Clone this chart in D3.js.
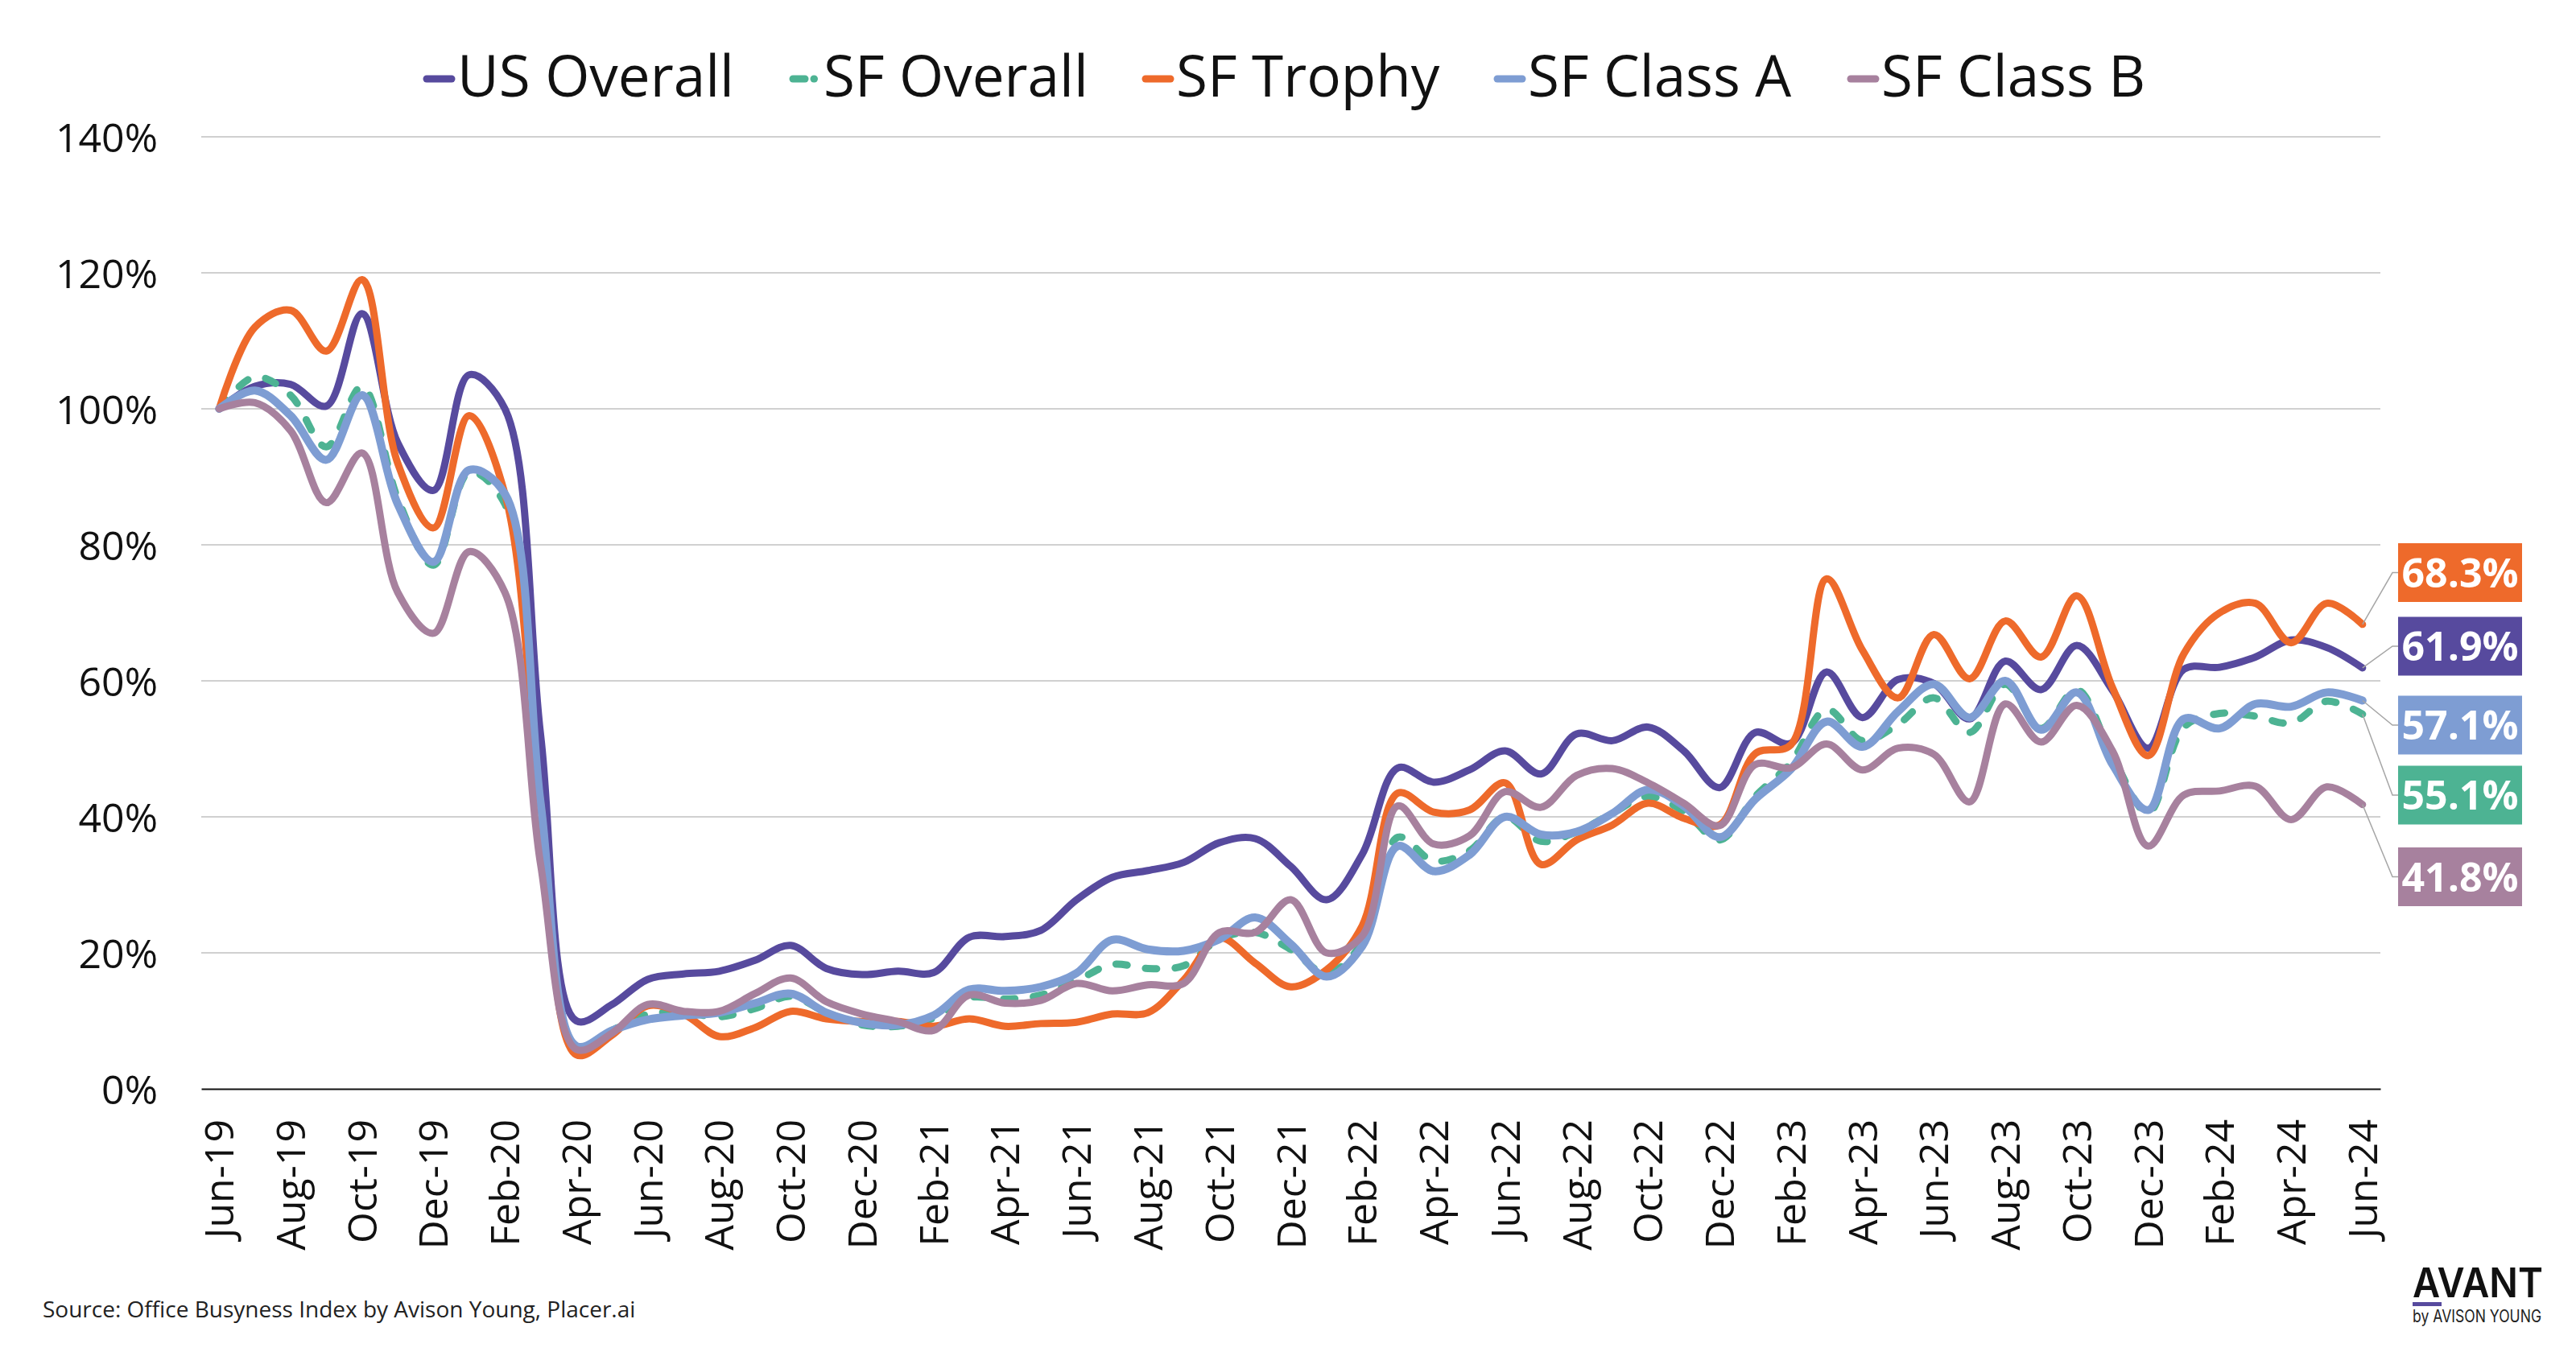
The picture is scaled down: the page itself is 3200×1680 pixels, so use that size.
<!DOCTYPE html>
<html><head><meta charset="utf-8">
<script src="https://cdn.jsdelivr.net/npm/d3@7"></script>
<style>html,body{margin:0;padding:0;background:#fff;} svg{display:block;font-family:"Open Sans",sans-serif;}</style>
</head><body><svg id="c" width="3200" height="1680"></svg>
<script>
const months = ["Jun-19","Jul-19","Aug-19","Sep-19","Oct-19","Nov-19","Dec-19","Jan-20","Feb-20","Mar-20","Apr-20","May-20","Jun-20","Jul-20","Aug-20","Sep-20","Oct-20","Nov-20","Dec-20","Jan-21","Feb-21","Mar-21","Apr-21","May-21","Jun-21","Jul-21","Aug-21","Sep-21","Oct-21","Nov-21","Dec-21","Jan-22","Feb-22","Mar-22","Apr-22","May-22","Jun-22","Jul-22","Aug-22","Sep-22","Oct-22","Nov-22","Dec-22","Jan-23","Feb-23","Mar-23","Apr-23","May-23","Jun-23","Jul-23","Aug-23","Sep-23","Oct-23","Nov-23","Dec-23","Jan-24","Feb-24","Mar-24","Apr-24","May-24","Jun-24"];

const usOverall = [100,103.3,103.6,100.4,114,95,88,105,100,52,10,12.4,16.1,16.9,17.3,18.9,21.1,17.7,16.8,17.3,17.1,22.3,22.4,23.3,27.8,31.1,32.1,33.3,36.2,36.8,32.7,27.8,34.5,47.2,45.1,46.9,49.7,46.3,52.2,51.2,53.2,49.7,44.3,52.4,50.8,61.3,54.6,60.2,59.6,54.4,62.9,58.7,65.2,58.6,50.1,61.7,62.0,63.5,66.0,64.9,61.9];
const sfOverall = [100,104.7,102,94.4,103.3,86.8,77,90.7,86,40,6.2,8.6,11,11.2,10.6,11.8,13.6,11.2,9.4,9.2,10.4,13.4,13.2,13.8,15.9,18.3,17.7,18.1,22,23,20.5,17,21.5,37,33.5,35,40,36.4,37.8,40.5,43,40.8,36.6,43,48,55.8,51.2,53.6,57.5,52.4,59.5,53,58.7,48.9,40.6,53.2,55.2,54.8,53.8,57,55.1];
const sfTrophy = [100,112,114.5,108.5,119,92,82.5,99,87.5,42,5,7.9,12.2,11,7.7,9,11.4,10.3,9.9,9.9,9.2,10.3,9.2,9.6,9.8,11,11.2,16,22.2,18.5,15,17.5,24,43.5,40.7,41,45,33,36.6,38.8,42,39.8,38.8,49.3,50.6,75,64.5,57.5,66.8,60.3,68.8,63.5,72.5,59,49,64,70,71.4,65.6,71.4,68.3];
const sfClassA = [100,102.7,99,92.5,102,86,77.5,91,87.5,42,6.3,8.6,10.2,10.8,11.2,12.6,14,11.2,9.7,9.4,10.8,14.6,14.4,15,17,21.9,20.5,20.3,22,25.2,21.3,16.5,21,35.7,32,34.4,40,37.4,37.8,40.5,44,41.6,37,42.6,47,54,50.3,55.5,59.5,54.6,60,52.8,58.3,47.7,41,54.4,53,56.6,56.2,58.3,57.1];
const sfClassB = [100,100.9,96.8,86.2,93.5,73,67,79,73,33,5.8,8.2,12.4,11.4,11.4,14,16.3,12.8,11,9.9,8.6,13.8,12.6,13,15.5,14.4,15.3,15.5,23,23,27.8,20,22.5,41.6,36,37.2,43.7,41.4,46.1,47.1,45,42,38.7,47.7,47.2,50.7,46.9,50.1,49.2,42.2,56.6,51,56.4,49.7,35.7,43.2,43.8,44.5,39.6,44.4,41.8];

const seriesNames = ["US Overall","SF Overall","SF Trophy","SF Class A","SF Class B"];
const seriesColors = ["#574A9E","#4DB393","#EE6A2B","#7E9DD3","#A7819E"];
const yTicks = [0,20,40,60,80,100,120,140];
const endLabelOrder = ["SF Trophy","US Overall","SF Class A","SF Overall","SF Class B"];
const endLabelY = [711.5,803,901,988,1089.5];
const legendX = [525,980,1418,1855,2294];
const sourceText = "Source: Office Busyness Index by Avison Young, Placer.ai";

const seriesValues = [usOverall, sfOverall, sfTrophy, sfClassA, sfClassB];
const series = seriesNames.map((n,k)=>({name:n, color:seriesColors[k], values:seriesValues[k], dashed:n==="SF Overall"}));

const svg = d3.select("#c");
const x = d3.scaleBand().domain(months).range([250,2957]);
const xc = m => x(m) + x.bandwidth()/2;
const y = d3.scaleLinear().domain([0,140]).range([1353,170]);

// gridlines
svg.append("g").selectAll("line").data(yTicks.filter(d=>d>0)).join("line")
  .attr("x1",250).attr("x2",2957).attr("y1",d=>y(d)).attr("y2",d=>y(d))
  .attr("stroke","#d0d0d0").attr("stroke-width",2);

// y axis
const yAxis = svg.append("g").attr("transform","translate(196,0)")
  .call(d3.axisLeft(y).tickValues(yTicks).tickFormat(d=>d+"%").tickSize(0).tickPadding(0));
yAxis.select(".domain").remove();
yAxis.selectAll("text").attr("font-size",50).attr("font-family","Open Sans").attr("fill","#111").attr("dy","0.36em");

// x axis
const xAxis = svg.append("g").attr("transform","translate(0,1353)")
  .call(d3.axisBottom(x).tickValues(months.filter((d,i)=>i%2===0)).tickSize(0).tickSizeOuter(0));
xAxis.select(".domain").attr("stroke","#111").attr("stroke-width",2);
xAxis.selectAll("text").attr("font-size",50).attr("font-family","Open Sans").attr("fill","#111")
  .attr("transform","rotate(-90)").attr("text-anchor","end").attr("x",-38).attr("y",0).attr("dy","0.36em");

// lines
const line = d3.line().x((d,i)=>xc(months[i])).y(d=>y(d)).curve(d3.curveCatmullRom.alpha(0.5));
svg.append("g").selectAll("path").data(series).join("path")
  .attr("d",d=>line(d.values)).attr("fill","none").attr("stroke",d=>d.color)
  .attr("stroke-width",d=>d.name==="SF Class A"?10:9)
  .attr("stroke-linecap","round").attr("stroke-linejoin","round")
  .attr("stroke-dasharray",d=>d.dashed?"14 23":null);

// legend
const lg = svg.append("g");
series.forEach((s,k)=>{
  const g = lg.append("g").attr("transform",`translate(${legendX[k]-525},0)`);
  if(s.dashed){
    g.append("line").attr("x1",530).attr("x2",545).attr("y1",98).attr("y2",98);
    g.append("line").attr("x1",556).attr("x2",556.5).attr("y1",98).attr("y2",98);
  } else {
    g.append("line").attr("x1",530).attr("x2",561).attr("y1",98).attr("y2",98);
  }
  g.selectAll("line").attr("stroke",s.color).attr("stroke-width",9).attr("stroke-linecap","round");
  g.append("text").attr("x",568).attr("y",120).attr("font-size",71).attr("fill","#111").text(s.name);
});

// end labels
const lastIdx = months.length-1;
const el = svg.append("g");
endLabelOrder.forEach((name,k)=>{
  const s = series.find(d=>d.name===name);
  const v = s.values[lastIdx];
  const ex = xc(months[lastIdx]), ey = y(v);
  const by = endLabelY[k];
  el.append("polyline").attr("points",`${ex},${ey} 2972,${by} 2979,${by}`)
    .attr("fill","none").attr("stroke","#a6a6a6").attr("stroke-width",1.5);
  el.append("rect").attr("x",2979).attr("y",by-36.5).attr("width",154).attr("height",73).attr("fill",s.color);
  el.append("text").attr("x",3056).attr("y",by).attr("dy","0.36em").attr("text-anchor","middle")
    .attr("font-size",50).attr("font-weight",700).attr("fill","#fff").text(v.toFixed(1)+"%");
});

// source
svg.append("text").attr("x",53).attr("y",1637).attr("font-size",28).attr("fill","#222").text(sourceText);

// logo
svg.append("text").attr("x",2997).attr("y",1612).attr("font-family","Inter").attr("font-weight",600)
  .attr("font-size",51).attr("fill","#111").attr("textLength",162).attr("lengthAdjust","spacingAndGlyphs").text("AVANT");
svg.append("rect").attr("x",2997).attr("y",1618).attr("width",36).attr("height",5).attr("fill","#574A9E");
svg.append("text").attr("x",2997).attr("y",1643).attr("font-family","Inter").attr("font-size",21)
  .attr("fill","#222").attr("textLength",160).attr("lengthAdjust","spacingAndGlyphs").text("by AVISON YOUNG");
</script></body></html>
